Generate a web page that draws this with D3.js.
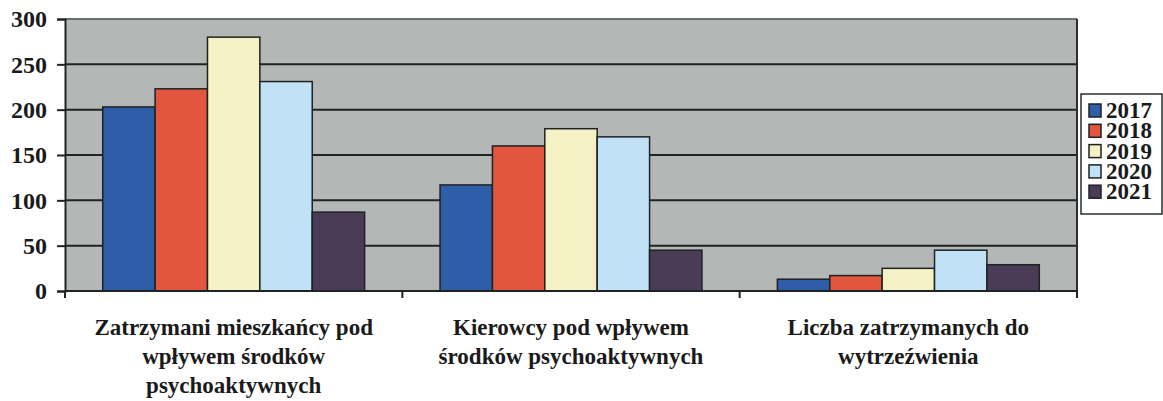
<!DOCTYPE html>
<html>
<head>
<meta charset="utf-8">
<script src="https://cdn.jsdelivr.net/npm/d3@7"></script>
<style>
  body { margin: 0; background: #fff; }
  svg { display: block; font-family: "Liberation Serif", "DejaVu Serif", serif; font-weight: bold; }
</style>
</head>
<body>
<svg id="chart" width="1163" height="401"></svg>
<script>
var categories = [
  ["Zatrzymani mieszkańcy pod", "wpływem środków", "psychoaktywnych"],
  ["Kierowcy pod wpływem", "środków psychoaktywnych"],
  ["Liczba zatrzymanych do", "wytrzeźwienia"]
];
var years = ["2017", "2018", "2019", "2020", "2021"];
var values2017 = [203, 117, 13];
var values2018 = [223, 160, 17];
var values2019 = [280, 179, 25];
var values2020 = [231, 170, 45];
var values2021 = [87, 45, 29];
var yTicks = [0, 50, 100, 150, 200, 250, 300];
var colors = ["#2e5ea8", "#e2553e", "#f4f1c4", "#c0e1f6", "#4a3b56"];

var series = [values2017, values2018, values2019, values2020, values2021];

var svg = d3.select("#chart");
var mLeft = 65, mRight = 1077, mTop = 19, mBottom = 291;

var x0 = d3.scaleBand().domain(d3.range(categories.length)).range([mLeft, mRight]).paddingInner(0).paddingOuter(0);
var x1 = d3.scaleBand().domain(d3.range(years.length)).range([0, x0.bandwidth()]).paddingOuter(0.72).paddingInner(0);
var y = d3.scaleLinear().domain([0, 300]).range([mBottom, mTop]);

// plot background
svg.append("rect")
  .attr("x", mLeft).attr("y", mTop)
  .attr("width", mRight - mLeft).attr("height", mBottom - mTop)
  .attr("fill", "#b5b7b7");

// gridlines
svg.append("g").selectAll("line").data(yTicks.filter(function (d) { return d > 0 && d < 300; }))
  .enter().append("line")
  .attr("x1", mLeft).attr("x2", mRight)
  .attr("y1", function (d) { return y(d); }).attr("y2", function (d) { return y(d); })
  .attr("stroke", "#1e2424").attr("stroke-width", 2);

// top and right border
svg.append("line").attr("x1", mLeft).attr("x2", mRight).attr("y1", mTop).attr("y2", mTop)
  .attr("stroke", "#6a6e6e").attr("stroke-width", 2);
svg.append("line").attr("x1", mRight).attr("x2", mRight).attr("y1", mTop).attr("y2", mBottom + 4)
  .attr("stroke", "#2a2e2e").attr("stroke-width", 2);

// bars
var groups = svg.append("g").selectAll("g").data(categories).enter().append("g")
  .attr("transform", function (d, i) { return "translate(" + x0(i) + ",0)"; });

groups.selectAll("rect").data(function (d, i) {
    return series.map(function (s, k) { return { k: k, v: s[i] }; });
  })
  .enter().append("rect")
  .attr("x", function (d) { return x1(d.k); })
  .attr("y", function (d) { return y(d.v); })
  .attr("width", x1.bandwidth())
  .attr("height", function (d) { return y(0) - y(d.v); })
  .attr("fill", function (d) { return colors[d.k]; })
  .attr("stroke", "#1d2222").attr("stroke-width", 1.5);

// y axis
var yAxis = svg.append("g").attr("transform", "translate(" + mLeft + ",0)")
  .call(d3.axisLeft(y).tickValues(yTicks).tickSize(8).tickPadding(10));
yAxis.selectAll("line").attr("stroke", "#1e2424").attr("stroke-width", 2);
yAxis.select(".domain").attr("stroke", "#1e2424").attr("stroke-width", 2);
yAxis.selectAll("text").attr("font-size", 24).attr("font-family", "Liberation Serif").attr("font-weight", "bold").attr("fill", "#1a1a1a");

// x axis with ticks at band edges
var xAxis = svg.append("g").attr("transform", "translate(0," + mBottom + ")");
xAxis.append("line").attr("x1", mLeft).attr("x2", mRight).attr("stroke", "#1e2424").attr("stroke-width", 2);
xAxis.selectAll(".tk").data(d3.range(categories.length + 1)).enter().append("line")
  .attr("class", "tk")
  .attr("x1", function (d) { return d < categories.length ? x0(d) : mRight; })
  .attr("x2", function (d) { return d < categories.length ? x0(d) : mRight; })
  .attr("y1", 0).attr("y2", 7)
  .attr("stroke", "#1e2424").attr("stroke-width", 2);

// category labels
var labels = svg.append("g").selectAll("text").data(categories).enter().append("text")
  .attr("text-anchor", "middle")
  .attr("font-size", 23)
  .attr("fill", "#1a1a1a");
labels.each(function (lines, i) {
  var t = d3.select(this);
  lines.forEach(function (line, j) {
    t.append("tspan")
      .attr("x", x0(i) + x0.bandwidth() / 2)
      .attr("y", 335 + j * 29)
      .text(line);
  });
});

// legend
var legend = svg.append("g").attr("transform", "translate(1081,94)");
legend.append("rect").attr("width", 81).attr("height", 120)
  .attr("fill", "#fff").attr("stroke", "#2a2e2e").attr("stroke-width", 1.5);
var items = legend.selectAll("g").data(years).enter().append("g")
  .attr("transform", function (d, i) { return "translate(8," + (10 + i * 20.3) + ")"; });
items.append("rect").attr("width", 12).attr("height", 13)
  .attr("fill", function (d, i) { return colors[i]; })
  .attr("stroke", "#1d2222").attr("stroke-width", 1.5);
items.append("text").attr("x", 17).attr("y", 14)
  .attr("font-size", 23).attr("fill", "#1a1a1a")
  .text(function (d) { return d; });
</script>
</body>
</html>
